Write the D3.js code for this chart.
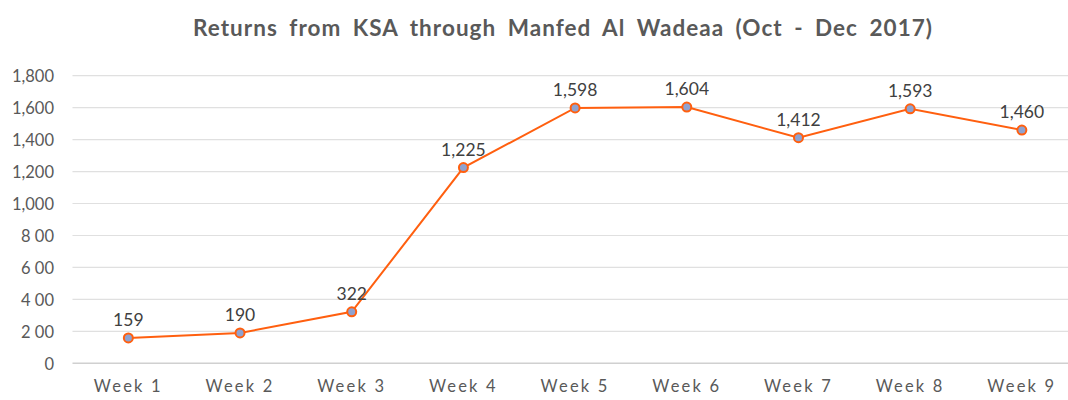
<!DOCTYPE html>
<html><head><meta charset="utf-8">
<script src="https://cdn.jsdelivr.net/npm/d3@7"></script>
<style>body{margin:0;background:#fff;} svg{display:block;}</style>
</head><body>
<svg id="c" width="1068" height="400"></svg>
<script>
const categories = ["Week 1","Week 2","Week 3","Week 4","Week 5","Week 6","Week 7","Week 8","Week 9"];
const values = [159,190,322,1225,1598,1604,1412,1593,1460];
const yTicks = [0,200,400,600,800,1000,1200,1400,1600,1800];
const yTickLabels = ["0","2 00","4 00","6 00","8 00","1,000","1,200","1,400","1,600","1,800"];
const title = "Returns from KSA through Manfed Al Wadeaa (Oct - Dec 2017)";

const svg = d3.select("#c");
const m = {left:72.5, right:1077.7, top:75.7, bottom:363.3};
const x = d3.scaleBand().domain(categories).range([m.left, m.right]);
const y = d3.scaleLinear().domain([0,1800]).range([m.bottom, m.top]);
const font = "Lato, 'Open Sans', sans-serif";

svg.append("text").attr("x",193).attr("y",36)
  .attr("font-family",font).attr("font-weight",700).attr("font-size",22.5)
  .attr("word-spacing","5px")
  .attr("textLength",739).attr("lengthAdjust","spacing")
  .attr("fill","#595959").text(title);

// grid
svg.append("g").selectAll("line").data(yTicks).join("line")
  .attr("x1",m.left).attr("x2",1068)
  .attr("y1",d=>y(d)).attr("y2",d=>y(d))
  .attr("stroke",d=>d===0?"#d0d0d0":"#e0e0e0").attr("stroke-width",d=>d===0?1.5:1.2);

// y axis
const yAxis = d3.axisLeft(y).tickValues(yTicks).tickSize(0).tickPadding(0)
  .tickFormat((d,i)=>yTickLabels[i]);
const ga = svg.append("g").attr("transform","translate(54,0)").call(yAxis);
ga.select(".domain").remove();
ga.selectAll("text").attr("font-family",font).attr("font-size",16.5).attr("fill","#595959").attr("dy","0.35em");

// x axis
const xAxis = d3.axisBottom(x).tickSize(0).tickPadding(0);
const gx = svg.append("g").attr("transform","translate(0,380)").call(xAxis);
gx.select(".domain").remove();
gx.selectAll("text").attr("font-family",font).attr("font-size",16.5).attr("fill","#595959")
  .attr("letter-spacing","2.2px").attr("dy","0.71em");

const cx = d => x(d) + x.bandwidth()/2;
const line = d3.line().x((d,i)=>cx(categories[i])).y(d=>y(d));
svg.append("path").datum(values).attr("d",line).attr("fill","none")
  .attr("stroke","#FF5F0F").attr("stroke-width",2);

svg.append("g").selectAll("circle").data(values).join("circle")
  .attr("cx",(d,i)=>cx(categories[i])).attr("cy",d=>y(d)).attr("r",4.5)
  .attr("fill","#8FA2D0").attr("stroke","#FF5F0F").attr("stroke-width",2);

svg.append("g").selectAll("text").data(values).join("text")
  .attr("x",(d,i)=>cx(categories[i])).attr("y",d=>y(d)-12)
  .attr("text-anchor","middle").attr("font-family",font).attr("font-size",17.5)
  .attr("fill","#404040").text(d=>d3.format(",")(d));
</script>
</body></html>
